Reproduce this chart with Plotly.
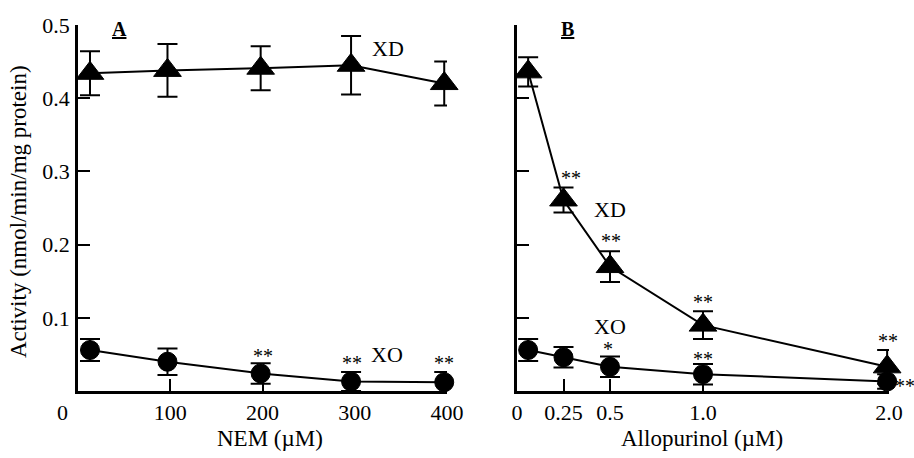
import plotly.graph_objects as go

# ---- data ----
nem_x = [13, 97, 198, 296, 397]
nem_xd = [0.434, 0.438, 0.441, 0.445, 0.420]
nem_xd_err = [0.030, 0.036, 0.030, 0.040, 0.030]
nem_xo = [0.056, 0.040, 0.024, 0.013, 0.012]
nem_xo_err = [0.015, 0.018, 0.014, 0.013, 0.014]

allo_x = [0.06, 0.25, 0.5, 1.0, 1.99]
allo_xd = [0.436, 0.261, 0.170, 0.090, 0.033]
allo_xd_err = [0.020, 0.017, 0.021, 0.019, 0.023]
allo_xo = [0.056, 0.046, 0.033, 0.023, 0.013]
allo_xo_err = [0.015, 0.014, 0.014, 0.014, 0.010]

y_ticks = [0.1, 0.2, 0.3, 0.4, 0.5]
y_ticktext = ["0.1", "0.2", "0.3", "0.4", "0.5"]
nem_ticks = [0, 100, 200, 300, 400]
nem_ticktext = ["", "100", "200", "300", "400"]
allo_ticks = [0, 0.25, 0.5, 1.0, 2.0]
allo_ticktext = ["0", "0.25", "0.5", "1.0", "2.0"]

FONT = "Liberation Serif"
BLACK = "black"

fig = go.Figure()

def add_series(x, y, err, symbol, size, xa, ya):
    fig.add_trace(go.Scatter(
        x=x, y=y, mode="lines+markers", xaxis=xa, yaxis=ya,
        line=dict(color=BLACK, width=2),
        marker=dict(symbol=symbol, size=size, color=BLACK, line=dict(color=BLACK, width=1)),
        error_y=dict(type="data", array=err, color=BLACK, thickness=2, width=10),
        cliponaxis=False, showlegend=False,
    ))

add_series(nem_x, nem_xd, nem_xd_err, "triangle-up", 24, "x", "y")
add_series(nem_x, nem_xo, nem_xo_err, "circle", 19, "x", "y")
add_series(allo_x, allo_xd, allo_xd_err, "triangle-up", 24, "x2", "y2")
add_series(allo_x, allo_xo, allo_xo_err, "circle", 19, "x2", "y2")

axis_common = dict(showline=True, linewidth=2.5, linecolor=BLACK, ticks="inside",
                   ticklen=12, tickwidth=2, tickcolor=BLACK, showgrid=False,
                   zeroline=False, automargin=False,
                   tickfont=dict(family=FONT, size=22, color=BLACK))

ydom = [(458 - 391) / 458, (458 - 25) / 458]
fig.update_layout(
    width=914, height=458,
    margin=dict(l=0, r=0, t=0, b=0, pad=0, autoexpand=False),
    paper_bgcolor="white", plot_bgcolor="white",
    xaxis=dict(domain=[78 / 914, 447 / 914], range=[0, 400], anchor="y",
               tickvals=nem_ticks, ticktext=nem_ticktext, ticklabelstandoff=0, **axis_common),
    yaxis=dict(domain=ydom, range=[0, 0.5], anchor="x",
               tickvals=y_ticks, ticktext=y_ticktext, ticklabelstandoff=1, **axis_common),
    xaxis2=dict(domain=[517 / 914, 889 / 914], range=[0, 2], anchor="y2",
                tickvals=allo_ticks, ticktext=allo_ticktext, ticklabelstandoff=0, **axis_common),
    yaxis2=dict(domain=ydom, range=[0, 0.5], anchor="x2",
                tickvals=y_ticks, showticklabels=False, **axis_common),
)

def ann(text, x, y, xref, yref, size=20, **kw):
    fig.add_annotation(text=text, x=x, y=y, xref=xref, yref=yref, showarrow=False,
                       xanchor="center", yanchor="middle",
                       font=dict(family=FONT, size=size, color=BLACK), **kw)

# panel A labels
ann("<b><u>A</u></b>", 45, 0.494, "x", "y", size=20)
ann("XD", 336, 0.468, "x", "y", size=22)
ann("XO", 335, 0.050, "x", "y", size=22)
ann("**", 200, 0.048, "x", "y")
ann("**", 297, 0.038, "x", "y")
ann("**", 397, 0.038, "x", "y")
# the "0" tick label of panel A sits left of the axis origin
ann("0", 62 / 914, 0, "paper", "y", size=22, yshift=-21)

# panel B labels
ann("<b><u>B</u></b>", 0.27, 0.494, "x2", "y2", size=20)
ann("XD", 0.50, 0.248, "x2", "y2", size=22)
ann("XO", 0.50, 0.088, "x2", "y2", size=22)
ann("**", 0.29, 0.291, "x2", "y2")
ann("**", 0.505, 0.205, "x2", "y2")
ann("**", 1.0, 0.122, "x2", "y2")
ann("*", 0.49, 0.058, "x2", "y2")
ann("**", 1.0, 0.044, "x2", "y2")
ann("**", 1.995, 0.068, "x2", "y2")
ann("**", 905 / 914, 0.007, "paper", "y2")

# axis titles
ann("NEM (\u00b5M)", 270 / 914, 1 - 438 / 458, "paper", "paper", size=23)
ann("Allopurinol (\u00b5M)", 702 / 914, 1 - 438 / 458, "paper", "paper", size=23)
ann("Activity (nmol/min/mg protein)", 18 / 914, 1 - 212 / 458, "paper", "paper", size=23,
    textangle=-90)

fig.write_html("out.html")
